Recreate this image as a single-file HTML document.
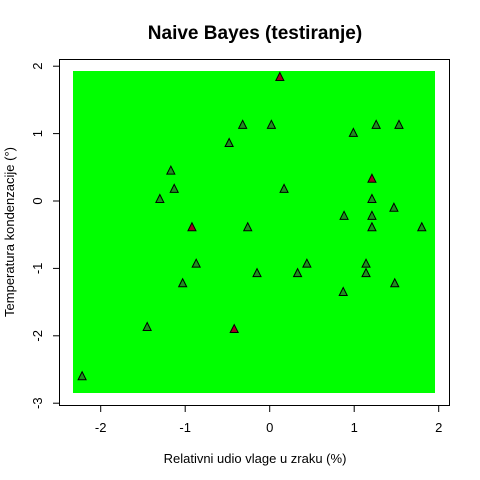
<!DOCTYPE html>
<html><head><meta charset="utf-8"><style>body{margin:0;background:#fff}svg{display:block;font-family:"Liberation Sans",Arial,sans-serif}</style></head>
<body>
<svg id="chart" width="480" height="480" viewBox="0 0 480 480">
<text x="255" y="39" text-anchor="middle" font-size="19" font-weight="bold">Naive Bayes (testiranje)</text>
<rect x="73" y="71" width="362" height="322" fill="#00ff00"/>
<rect x="59.5" y="59.5" width="390" height="346" fill="none" stroke="#000"/>
<g id="xaxis"></g>
<g id="yaxis"></g>
<g id="points"></g>
<text x="255" y="463" text-anchor="middle" font-size="13">Relativni udio vlage u zraku (%)</text>
<text transform="translate(14,232) rotate(-90)" text-anchor="middle" font-size="13">Temperatura kondenzacije (°)</text>
</svg>
<script>
const xTicks=[-2,-1,0,1,2];
const yTicks=[-3,-2,-1,0,1,2];
const xVals=[-2.22,-1.45,-0.42,-1.30,-1.17,-1.13,-0.92,-1.03,-0.87,-0.32,-0.26,-0.48,-0.15,0.02,0.12,0.17,0.33,0.44,0.87,0.88,0.99,1.21,1.21,1.21,1.21,1.14,1.14,1.26,1.47,1.48,1.53,1.80];
const yVals=[-2.60,-1.87,-1.90,0.03,0.45,0.18,-0.39,-1.22,-0.93,1.13,-0.39,0.86,-1.07,1.13,1.84,0.18,-1.07,-0.93,-1.35,-0.22,1.01,0.33,0.03,-0.22,-0.39,-0.93,-1.07,1.13,-0.10,-1.22,1.13,-0.39];
const classes=[0,0,1,0,0,0,1,0,0,0,0,0,0,0,1,0,0,0,0,0,0,1,0,0,0,0,0,0,0,0,0,0];
const sx=v=>269.7+v*84.5;
const sy=v=>201-v*67.4;
const NS="http://www.w3.org/2000/svg";
function mk(t,a){const e=document.createElementNS(NS,t);for(const k in a)e.setAttribute(k,a[k]);return e;}
const xa=document.getElementById('xaxis');
xa.appendChild(mk('line',{x1:sx(-2),x2:sx(2),y1:405.5,y2:405.5,stroke:'#000'}));
xTicks.forEach(t=>{
 const l=mk('line',{x1:sx(t),x2:sx(t),y1:405.5,y2:412,stroke:'#000'});
 
 
 xa.appendChild(l);
 const tx=mk('text',{x:sx(t),y:432,'text-anchor':'middle','font-size':'13'});
 tx.textContent=t;
 
 
 xa.appendChild(tx);
});
const ya=document.getElementById('yaxis');
ya.appendChild(mk('line',{x1:59.5,x2:59.5,y1:sy(-3),y2:sy(2),stroke:'#000'}));
yTicks.forEach(t=>{
 const l=mk('line',{x1:53,x2:59.5,y1:sy(t),y2:sy(t),stroke:'#000'});
 
 
 ya.appendChild(l);
 const tx=mk('text',{transform:`translate(42,${sy(t)}) rotate(-90)`,'text-anchor':'middle','font-size':'13'});
 tx.textContent=t;
 
 
 ya.appendChild(tx);
});
const pg=document.getElementById('points');
xVals.forEach((v,i)=>{
 const cx=sx(v),cy=sy(yVals[i]);
 const p=mk('polygon',{points:`${cx},${cy-4.5} ${cx-4},${cy+3.5} ${cx+4},${cy+3.5}`,fill:classes[i]?'#a00020':'#1f8f1f',stroke:'#000','stroke-width':'1'});
 
 
 pg.appendChild(p);
});
</script>
</body></html>
